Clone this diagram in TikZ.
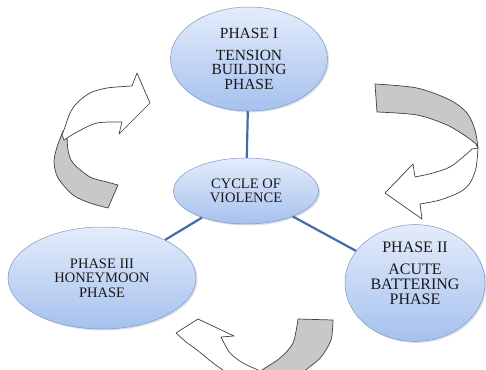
\documentclass[tikz,border=0pt]{standalone}
\usepackage{fontspec}
\setmainfont{Liberation Serif}
\usetikzlibrary{shapes.geometric,shadows}

\definecolor{ringtop}{RGB}{228,236,251}
\definecolor{ringbot}{RGB}{166,193,238}
\definecolor{ringrim}{RGB}{125,150,200}
\definecolor{linkblue}{RGB}{68,108,168}
\definecolor{bandgray}{RGB}{200,200,200}

\tikzset{
  phase/.style={ellipse, draw=ringrim, line width=0.5pt,
    top color=ringtop, bottom color=ringbot,
    drop shadow={shadow xshift=1.5pt, shadow yshift=-1.5pt, opacity=0.25},
    inner sep=0pt, align=center, text=black!90,
    font=\fontsize{14.5}{14.5}\selectfont},
  link/.style={draw=linkblue, line width=2.2pt},
  whiteband/.style={draw=black!75, line width=0.7pt, fill=white, line join=round},
  grayband/.style={draw=black!75, line width=0.7pt, fill=bandgray, line join=round},
}

\begin{document}
\begin{tikzpicture}[x=1pt,y=-1pt]
\useasboundingbox (0,0) rectangle (486,369);
\clip (0,0) rectangle (486,369);

% turning arrows
\draw[grayband] plot[smooth] coordinates {(63,131) (57,147) (54,162) (58,178) (73,195) (90,203) (108,208)}
  -- (118,185) -- plot[smooth] coordinates {(118,185) (107,182) (90,177) (73,163) (68,150) (67,133)} -- cycle;
\draw[whiteband] plot[smooth] coordinates {(62,135) (65,127) (70,113) (77,103) (90,93) (107,88) (132,86)}
  -- (137,73) -- (150,103) -- (119,134) -- (122,122)
  -- plot[smooth] coordinates {(122,122) (97,123) (77,132) (64,140)} -- cycle;

\draw[grayband] plot[smooth] coordinates {(375,84) (417,88) (450,100) (467,113) (475,130) (478,148)}
  -- plot[smooth] coordinates {(476,144) (467,137) (447,125) (417,115) (377,112)} -- cycle;
\draw[whiteband] plot[smooth] coordinates {(478,148) (476,168) (470,183) (460,192) (440,200) (420,204)}
  -- (422,219) -- (385,193) -- (413,164) -- (415,177)
  -- plot[smooth] coordinates {(415,177) (433,173) (450,167) (463,157) (472,149)} -- cycle;

\draw[whiteband] (176,333) -- (198,319) -- (234,336) -- (221,337)
  -- plot[smooth] coordinates {(221,337) (230,353) (243,363) (258,370) (275,378)}
  -- plot[smooth] coordinates {(245,392) (225,372) (213,363) (197,350) (186,342)} -- cycle;
\draw[grayband] (298,319) -- (333,320)
  -- plot[smooth] coordinates {(333,320) (331,340) (321,357) (307,369) (290,382)}
  -- plot[smooth] coordinates {(255,376) (262,370) (280,358) (293,343) (298,319)} -- cycle;

% phases
\node[phase, minimum width=157pt, minimum height=104pt, font=\fontsize{15.5}{14.5}\selectfont]
  (p1) at (249,59) {PHASE I\\[7pt]TENSION\\BUILDING\\PHASE};
\node[phase, minimum width=145pt, minimum height=66pt] (cyc) at (246,191) {CYCLE OF\\VIOLENCE};
\node[phase, minimum width=188pt, minimum height=102pt] (p3) at (102,278) {PHASE III\\HONEYMOON\\PHASE};
\node[phase, minimum width=140pt, minimum height=108pt, font=\fontsize{16}{15}\selectfont, text depth=20pt]
  (p2) at (415,283) {PHASE II\\[7pt]ACUTE\\BATTERING\\PHASE};

\draw[link] (p1) -- (cyc);
\draw[link] (cyc) -- (p3);
\draw[link] (cyc) -- (p2);
\end{tikzpicture}
\end{document}
